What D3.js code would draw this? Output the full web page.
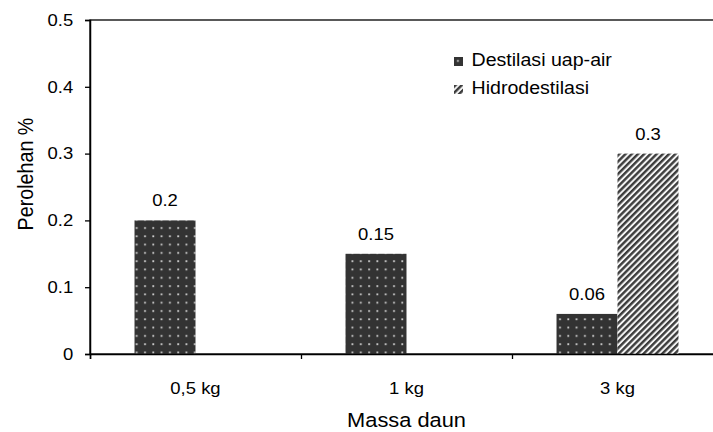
<!DOCTYPE html>
<html>
<script src="https://cdn.jsdelivr.net/npm/d3@7"></script>
<style>
  body { margin: 0; background: white; }
  text { font-family: "Liberation Sans", Arial, sans-serif; fill: black; }
</style>
<body>
<svg width="713" height="432"></svg>
<script>
var categories = ["0,5 kg", "1 kg", "3 kg"];
var seriesNames = ["Destilasi uap-air", "Hidrodestilasi"];
var uapAir = [0.2, 0.15, 0.06];
var hidro = [null, null, 0.3];
var yTicks = [0, 0.1, 0.2, 0.3, 0.4, 0.5];

var svg = d3.select("svg");
var plotL = 90, plotR = 723, plotT = 20, plotB = 354;
var sx = 1.12; // text in the original is a bit wide

var defs = svg.append("defs");
// dotted dark fill
var dots = defs.append("pattern")
  .attr("id", "dots")
  .attr("patternUnits", "userSpaceOnUse")
  .attr("width", 8.3).attr("height", 8.3)
dots.append("rect").attr("width", 8.3).attr("height", 8.3).attr("fill", "#333")
dots.append("rect").attr("x", 3).attr("y", 3).attr("width", 1.8).attr("height", 1.8).attr("fill", "#d0d0d0")
// diagonal hatch
var hatch = defs.append("pattern")
  .attr("id", "hatch")
  .attr("patternUnits", "userSpaceOnUse")
  .attr("width", 4.4).attr("height", 4.4)
  .attr("patternTransform", "rotate(45)")
hatch.append("rect").attr("width", 4.4).attr("height", 4.4).attr("fill", "#f4f4f4")
hatch.append("rect").attr("width", 2.4).attr("height", 4.4).attr("fill", "#3c3c3c")

var x0 = d3.scaleBand().domain(categories).range([plotL, plotR]).padding(0);
var x1 = d3.scaleBand().domain(seriesNames).range([0, x0.bandwidth()]).paddingInner(0).paddingOuter(0.73);
var y = d3.scaleLinear().domain([0, 0.5]).range([plotB, plotT]);

var fills = {"Destilasi uap-air": "url(#dots)", "Hidrodestilasi": "url(#hatch)"};

var rows = [];
categories.forEach(function(c, i) {
  rows.push({cat: c, s: seriesNames[0], v: uapAir[i]});
  rows.push({cat: c, s: seriesNames[1], v: hidro[i]});
});
rows = rows.filter(function(d) { return d.v != null; });

// frame
svg.append("rect")
  .attr("x", plotL).attr("y", plotT)
  .attr("width", plotR - plotL).attr("height", plotB - plotT)
  .attr("fill", "none").attr("stroke", "black").attr("stroke-width", 1.3)

svg.append("g").selectAll("rect")
  .data(rows)
  .enter()
  .append("rect")
  .attr("x", function(d) { return x0(d.cat) + x1(d.s); })
  .attr("y", function(d) { return y(d.v); })
  .attr("width", x1.bandwidth())
  .attr("height", function(d) { return plotB - y(d.v); })
  .attr("fill", function(d) { return fills[d.s]; })

svg.append("g").selectAll("text")
  .data(rows)
  .enter()
  .append("text")
  .attr("transform", function(d) {
    return "translate(" + (x0(d.cat) + x1(d.s) + x1.bandwidth() / 2) + "," + (y(d.v) - 14) + ")scale(" + sx + ",1)";
  })
  .attr("text-anchor", "middle")
  .style("font-size", "16.5px")
  .text(function(d) { return d.v; })

// y axis
var yAxis = svg.append("g")
  .attr("transform", "translate(" + plotL + ",0)")
  .call(d3.axisLeft(y).tickValues(yTicks).tickSize(5).tickPadding(10).tickFormat(function(d) { return d === 0 ? "0" : d3.format(".1f")(d); }))
yAxis.select(".domain").attr("stroke-width", 1.5)
yAxis.selectAll("line").attr("stroke-width", 1.3)
yAxis.selectAll("text").style("font-size", "16.5px").attr("fill", "black").attr("transform", "scale(" + sx + ",1)")

// x axis
var xTickPos = categories.map(function(c) { return x0(c); });
var xAxis = svg.append("g")
  .attr("transform", "translate(0," + plotB + ")")
  .call(d3.axisBottom(d3.scaleLinear().domain([plotL, plotR]).range([plotL, plotR]))
    .tickValues(xTickPos).tickSize(5).tickFormat(""))
xAxis.select(".domain").attr("stroke-width", 1.5)
xAxis.selectAll("line").attr("stroke-width", 1.3)

svg.append("g").selectAll("text")
  .data(categories)
  .enter()
  .append("text")
  .attr("transform", function(d) { return "translate(" + (x0(d) + x0.bandwidth() / 2) + ",394)scale(" + sx + ",1)"; })
  .attr("text-anchor", "middle")
  .style("font-size", "16.5px")
  .text(function(d) { return d; })

svg.append("text")
  .attr("transform", "translate(" + ((plotL + plotR) / 2) + ",427)scale(" + sx + ",1)")
  .attr("text-anchor", "middle")
  .style("font-size", "19.5px")
  .text("Massa daun")

svg.append("text")
  .attr("transform", "translate(32.5,174)rotate(-90)scale(1," + sx + ")")
  .attr("text-anchor", "middle")
  .style("font-size", "19.7px")
  .text("Perolehan %")

// legend
var legend = svg.append("g").selectAll("g")
  .data(seriesNames)
  .enter()
  .append("g")
  .attr("transform", function(d, i) { return "translate(454," + (57 + i * 28) + ")"; })
legend.append("rect")
  .attr("width", 9).attr("height", 9)
  .attr("fill", function(d) { return fills[d]; })
legend.append("text")
  .attr("transform", "translate(17.5,9)scale(" + sx + ",1)")
  .style("font-size", "17.5px")
  .text(function(d) { return d; })
</script>
</body>
</html>
